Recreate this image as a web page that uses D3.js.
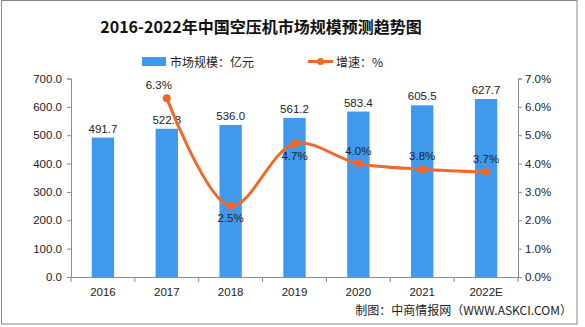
<!DOCTYPE html>
<html><head><meta charset="utf-8">
<script src="https://cdn.jsdelivr.net/npm/d3@7"></script>
<style>body{margin:0;background:#fff}svg{display:block}</style>
</head><body><svg id="c" width="585" height="327"></svg>
<script>
const categories = ["2016","2017","2018","2019","2020","2021","2022E"];
const marketSize = [491.7,522.8,536.0,561.2,583.4,605.5,627.7];
const growth = [null,6.3,2.5,4.7,4.0,3.8,3.7];
const leftTicks = [0,100,200,300,400,500,600,700];
const rightTicks = [0,1,2,3,4,5,6,7];
const title = "2016-2022年中国空压机市场规模预测趋势图";
const legendBar = "市场规模：亿元";
const legendLine = "增速：%";
const source = "制图：中商情报网（WWW.ASKCI.COM）";

const svg = d3.select("#c");
const W=585,H=327;
const L=71,R=518,T=78.5,B=277;
const barColor="#3f99ec", lineColor="#f0692b", axisColor="#8c8c8c";
const numFont="'Liberation Sans', Arial, sans-serif";
const cjkFont="'Noto Sans CJK SC', sans-serif";

svg.append("rect").attr("x",1.5).attr("y",0.5).attr("width",575.5).attr("height",323.5)
  .attr("fill","#fff").attr("stroke","#8a8a8a");

svg.append("text").attr("x",261).attr("y",33).attr("text-anchor","middle")
  .attr("font-family",cjkFont).attr("font-weight","bold").attr("font-size",16)
  .attr("fill","#111").text(title);

const x = d3.scaleBand().domain(categories).range([L,R]).paddingInner(0.65).paddingOuter(0.325);
const xb = d3.scaleBand().domain(categories).range([L,R]);
const yL = d3.scaleLinear().domain([0,700]).range([B,T]);
const yR = d3.scaleLinear().domain([0,7]).range([B,T]);

// bars
svg.append("g").selectAll("rect").data(marketSize).join("rect")
  .attr("x",(d,i)=>x(categories[i])).attr("width",x.bandwidth())
  .attr("y",d=>yL(d)).attr("height",d=>B-yL(d)).attr("fill",barColor);

svg.append("g").selectAll("text").data(marketSize).join("text")
  .attr("x",(d,i)=>xb(categories[i])+xb.bandwidth()/2).attr("y",d=>yL(d)-5)
  .attr("text-anchor","middle").attr("font-family",numFont).attr("font-size",11.5)
  .attr("fill","#222").text(d=>d.toFixed(1));

// axes
function styleAxis(g){
  g.selectAll("path,line").attr("stroke",axisColor);
  g.selectAll("text").attr("font-family",numFont).attr("font-size",11.5).attr("fill","#222");
}
const gl = svg.append("g").attr("transform",`translate(${L},0)`)
  .call(d3.axisLeft(yL).tickValues(leftTicks).tickFormat(d=>d.toFixed(1)).tickSize(4).tickSizeOuter(4).tickPadding(5));
styleAxis(gl);
const gr = svg.append("g").attr("transform",`translate(${R},0)`)
  .call(d3.axisRight(yR).tickValues(rightTicks).tickFormat(d=>d.toFixed(1)+"%").tickSize(4).tickSizeOuter(4).tickPadding(3));
styleAxis(gr);
const gx = svg.append("g").attr("transform",`translate(0,${B})`)
  .call(d3.axisBottom(xb).tickSize(0).tickPadding(11));
styleAxis(gx);
gx.select(".domain").attr("d",`M${L},0.5H${R}`);
gx.selectAll(".sep").data(d3.range(categories.length+1)).join("line").attr("class","sep")
  .attr("x1",i=>L+i*xb.step()).attr("x2",i=>L+i*xb.step()).attr("y1",0).attr("y2",5)
  .attr("stroke",axisColor);

// line
const pts = growth.map((g,i)=>({g,c:categories[i]})).filter(d=>d.g!==null);
const cx = d=>xb(d.c)+xb.bandwidth()/2;
svg.append("path").datum(pts)
  .attr("d",d3.line().x(cx).y(d=>yR(d.g)).curve(d3.curveCatmullRom.alpha(0.5)))
  .attr("fill","none").attr("stroke",lineColor).attr("stroke-width",3);
svg.append("g").selectAll("circle").data(pts).join("circle")
  .attr("cx",cx).attr("cy",d=>yR(d.g)).attr("r",4).attr("fill",lineColor);
const below = new Set(["2018","2019"]);
svg.append("g").selectAll("text").data(pts).join("text")
  .attr("x",d=>cx(d)+(d.c==="2017"?-8:0))
  .attr("y",d=>below.has(d.c)?yR(d.g)+16:yR(d.g)-9)
  .attr("text-anchor","middle").attr("font-family",numFont).attr("font-size",11.5)
  .attr("fill","#222").text(d=>d.g.toFixed(1)+"%");

// legend
svg.append("rect").attr("x",142).attr("y",57).attr("width",24).attr("height",9).attr("fill",barColor);
svg.append("text").attr("x",170).attr("y",66.5).attr("font-family",cjkFont).attr("font-size",12)
  .attr("fill","#222").text(legendBar);
svg.append("line").attr("x1",308).attr("x2",333).attr("y1",61.5).attr("y2",61.5)
  .attr("stroke",lineColor).attr("stroke-width",3);
svg.append("circle").attr("cx",320.5).attr("cy",61.5).attr("r",3.5).attr("fill",lineColor);
svg.append("text").attr("x",336).attr("y",66.5).attr("font-family",cjkFont).attr("font-size",12)
  .attr("fill","#222").text(legendLine);

// source
svg.append("text").attr("x",572).attr("y",315).attr("text-anchor","end")
  .attr("font-family",cjkFont).attr("font-size",12).attr("fill","#222").text(source);
</script></body></html>
